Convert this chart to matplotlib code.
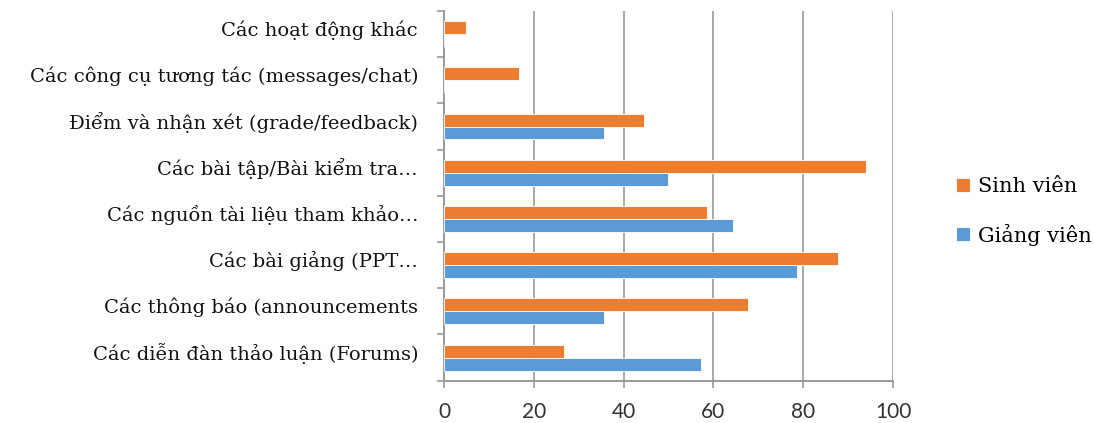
import numpy as np
import matplotlib.pyplot as plt
from matplotlib.transforms import ScaledTranslation

# Données
categories = [
    "Các diễn đàn thảo luận (Forums)",
    "Các thông báo (announcements",
    "Các bài giảng (PPT…",
    "Các nguồn tài liệu tham khảo…",
    "Các bài tập/Bài kiểm tra…",
    "Điểm và nhận xét (grade/feedback)",
    "Các công cụ tương tác (messages/chat)",
    "Các hoạt động khác",
]
giang_vien = [57.2, 35.6, 78.6, 64.3, 49.9, 35.6, 0, 0]
sinh_vien = [26.8, 67.8, 87.7, 58.5, 93.9, 44.5, 16.8, 4.8]
xticks = [0, 20, 40, 60, 80, 100]

c_orange = "#ED7D31"
c_blue = "#5B9BD5"
grid_c = "#9a9a9a"

fig = plt.figure(figsize=(10.94, 4.23), dpi=100)
ax = fig.add_axes([0.4059, 0.100, 0.4104, 0.874])

y = np.arange(len(categories))
h = 0.28
ax.barh(y - h / 2, giang_vien, height=h, color=c_blue, edgecolor="white",
        linewidth=0.6, label="Giảng viên", zorder=3)
ax.barh(y + h / 2, sinh_vien, height=h, color=c_orange, edgecolor="white",
        linewidth=0.6, label="Sinh viên", zorder=3)

ax.set_xlim(0, 100)
ax.set_ylim(-0.5, len(categories) - 0.5)
ax.set_xticks(xticks)
ax.set_yticks(y)
ax.set_yticklabels([])
# étiquettes un peu au-dessus du centre, comme dans Excel
shift = ScaledTranslation(-26 / 100, 4 / 100, fig.dpi_scale_trans)
for yi, cat in zip(y, categories):
    ax.text(0, yi, cat, transform=ax.get_yaxis_transform() + shift,
            ha="right", va="center", fontfamily="DejaVu Serif",
            fontsize=14, color="#111111")
ax.set_yticks(np.arange(-0.5, len(categories)), minor=True)
ax.tick_params(axis="y", which="major", length=0)
ax.tick_params(axis="y", which="minor", length=5, color=grid_c, width=1.2)
ax.tick_params(axis="x", length=5, color=grid_c, width=1.2, pad=10,
               labelsize=15, labelcolor="#333333")
for lab in ax.get_xticklabels():
    lab.set_fontfamily("Lato")

ax.grid(axis="x", color=grid_c, linewidth=1.2, zorder=0)
for s in ["top", "right"]:
    ax.spines[s].set_visible(False)
for s in ["left", "bottom"]:
    ax.spines[s].set_color(grid_c)
    ax.spines[s].set_linewidth(1.4)

handles, labels = ax.get_legend_handles_labels()
fig.legend(handles[::-1], labels[::-1], loc="center left",
           bbox_to_anchor=(0.857, 0.50), frameon=False,
           prop={"family": "DejaVu Serif", "size": 15},
           handlelength=0.65, handleheight=0.65, handletextpad=0.4,
           labelspacing=1.3)

fig.savefig("out.png", dpi=100)
